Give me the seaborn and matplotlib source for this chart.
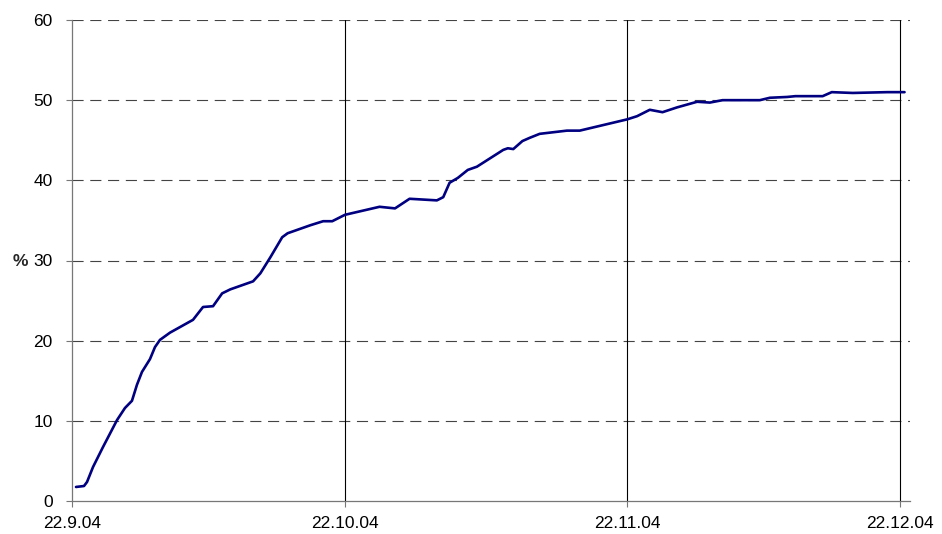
import numpy as np
import pandas as pd
import matplotlib
matplotlib.use('Agg')
import matplotlib.pyplot as plt
import seaborn as sns

# days after 22.9.04 and the share in %
day = [0.44, 1.32, 1.65, 2.31, 3.41, 4.95, 5.82, 6.59, 7.14, 7.69, 8.57, 9.12,
       9.67, 10.77, 13.3, 14.4, 15.5, 16.5, 17.4, 19.9, 20.7, 21.8, 23.1, 23.7,
       26.2, 27.6, 28.6, 30.0, 33.8, 35.5, 37.1, 40.1, 40.8, 41.5, 42.4, 43.5,
       44.5, 47.4, 47.9, 48.5, 49.5, 50.3, 51.4, 54.4, 55.8, 61.0, 62.1, 63.5,
       64.9, 66.5, 68.7, 70.1, 71.5, 75.6, 76.7, 78.6, 79.5, 82.5, 83.5, 85.8,
       89.6, 91.5]
pct = [1.75, 1.87, 2.37, 4.24, 6.74, 10.1, 11.6, 12.5, 14.5, 16.1, 17.7, 19.2,
       20.1, 21.0, 22.6, 24.2, 24.3, 25.9, 26.4, 27.4, 28.4, 30.4, 32.9, 33.4,
       34.4, 34.9, 34.9, 35.7, 36.7, 36.5, 37.7, 37.5, 37.9, 39.7, 40.3, 41.3,
       41.7, 43.8, 44.0, 43.9, 44.9, 45.3, 45.8, 46.2, 46.2, 47.6, 48.0, 48.8,
       48.5, 49.1, 49.8, 49.7, 50.0, 50.0, 50.3, 50.4, 50.5, 50.5, 51.0, 50.9,
       51.0, 51.0]
tick_dates = ['2004-09-22', '2004-10-22', '2004-11-22', '2004-12-22']
tick_labels = ['22.9.04', '22.10.04', '22.11.04', '22.12.04']
y_ticks = [0, 10, 20, 30, 40, 50, 60]

start = pd.Timestamp('2004-09-22')
df = pd.DataFrame({'date': start + pd.to_timedelta(day, unit='D'), 'pct': pct})

sns.set_style('white')
plt.rcParams['font.family'] = ['Liberation Sans', 'DejaVu Sans']
plt.rcParams['lines.solid_joinstyle'] = 'round'

fig = plt.figure(figsize=(9.42, 5.34), dpi=100)
ax = fig.add_axes([72 / 942, 33 / 534, 838 / 942, 481 / 534])

sns.lineplot(data=df, x='date', y='pct', ax=ax, color='#000080', linewidth=1.9)

ax.set_ylim(0, 60)
ax.set_xlim(start, start + pd.Timedelta(days=92.1))
ax.set_yticks(y_ticks)
ax.set_yticklabels([str(v) for v in y_ticks], fontsize=12.5)
ax.set_xticks(pd.to_datetime(tick_dates))
ax.set_xticklabels(tick_labels, fontsize=12.5)

# dashed horizontal grid, solid vertical lines at the month ticks
for v in y_ticks[1:]:
    ax.axhline(v, color='#444444', linestyle=(0, (10, 6)), linewidth=0.8, zorder=0)
for d in pd.to_datetime(tick_dates[1:]):
    ax.axvline(d, color='black', linewidth=0.8, zorder=0)

for s in ['top', 'right']:
    ax.spines[s].set_visible(False)
for s in ['left', 'bottom']:
    ax.spines[s].set_color('#777777')
    ax.spines[s].set_linewidth(0.9)

ax.tick_params(axis='both', direction='out', length=4, width=0.8, color='#777777',
               left=True, bottom=True, labelcolor='black')
ax.tick_params(axis='x', pad=7)
ax.tick_params(axis='y', pad=10)

ax.set_xlabel('')
ax.set_ylabel('')
fig.text(20 / 942, 1 - 261 / 534, '%', fontsize=12.5, fontweight='bold',
         ha='center', va='center')

fig.savefig('out.png', dpi=100)
